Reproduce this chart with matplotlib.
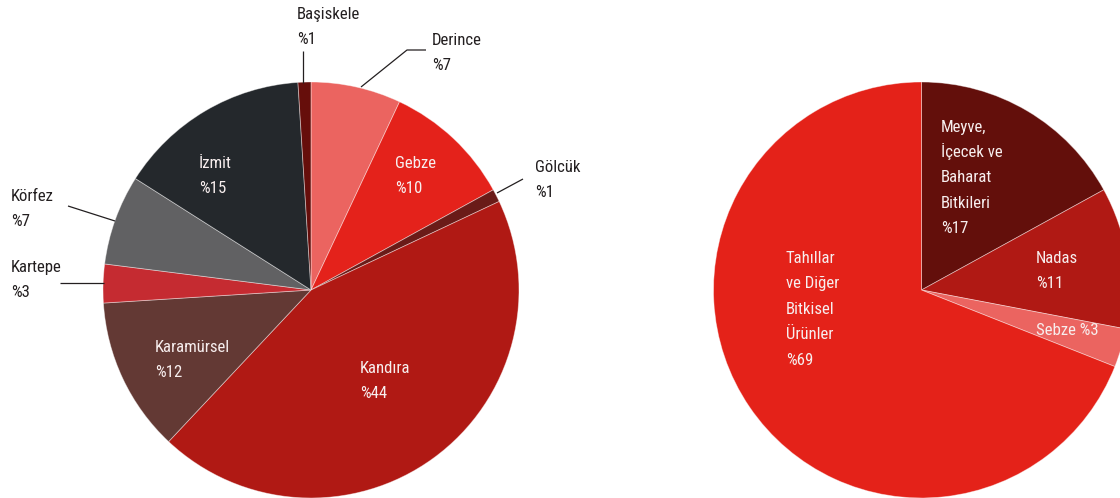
import matplotlib
matplotlib.use("Agg")
import matplotlib.pyplot as plt

plt.rcParams['font.family'] = ['Roboto Condensed', 'IBM Plex Sans Condensed',
                               'PT Sans Narrow', 'Roboto', 'DejaVu Sans']

# left pie: districts, clockwise from 12 o'clock
districts = ["Derince", "Gebze", "Gölcük", "Kandıra", "Karamürsel",
             "Kartepe", "Körfez", "İzmit", "Başiskele"]
district_share = [7, 10, 1, 44, 12, 3, 7, 15, 1]
district_colors = ["#EB6460", "#E4221B", "#6A1B18", "#B01914", "#633934",
                   "#C52B31", "#616163", "#24282C", "#660E0B"]

# right pie: crop groups
crops = ["Meyve,\nİçecek ve\nBaharat\nBitkileri", "Nadas", "Sebze",
         "Tahıllar\nve Diğer\nBitkisel\nÜrünler"]
crop_share = [17, 11, 3, 69]
crop_colors = ["#630F0B", "#B01914", "#EB6460", "#E42219"]

W, H = 1120, 498
fig = plt.figure(figsize=(W / 100, H / 100), dpi=100)
ax = fig.add_axes([0, 0, 1, 1])

wp = dict(edgecolor=(1, 1, 1, 0.45), linewidth=0.6)
ax.pie(district_share, colors=district_colors, startangle=90, counterclock=False,
       center=(311, H - 290), radius=208, wedgeprops=wp)
ax.pie(crop_share, colors=crop_colors, startangle=90, counterclock=False,
       center=(921.5, H - 290), radius=208, wedgeprops=wp)

ax.set_xlim(0, W)
ax.set_ylim(0, H)
ax.set_aspect('equal')
ax.axis('off')

dark = "#231F20"
light = "#F7EEEE"
fs = 12.1


# place lines one by one, y = baseline of first line in pixels from the top
def label(x, y, lines, col, step=25):
    for i, s in enumerate(lines):
        ax.text(x, H - (y + i * step), s, color=col, fontsize=fs,
                ha='left', va='baseline')


def pct(v):
    return "%" + str(v)


d = dict(zip(districts, district_share))

label(297, 19, ["Başiskele", pct(d["Başiskele"])], dark)
label(432, 45, ["Derince", pct(d["Derince"])], dark)
label(395, 168, ["Gebze", pct(d["Gebze"])], light)
label(535, 172, ["Gölcük", pct(d["Gölcük"])], dark)
label(199, 168, ["İzmit", pct(d["İzmit"])], light)
label(11, 201, ["Körfez", pct(d["Körfez"])], dark)
label(11, 272, ["Kartepe", pct(d["Kartepe"])], dark)
label(155, 352, ["Karamürsel", pct(d["Karamürsel"])], light)
label(360, 373, ["Kandıra", pct(d["Kandıra"])], light)

label(941, 132, crops[0].split("\n") + [pct(crop_share[0])], light, step=25.2)
label(1036, 263, ["Nadas", pct(crop_share[1])], light)
label(1036, 335, ["Sebze " + pct(crop_share[2])], light)
label(786, 263, crops[3].split("\n") + [pct(crop_share[3])], light, step=25.4)

# leader lines (pixel coords from the top)
leaders = [
    [(303, 51), (303, 83)],
    [(361, 87), (407, 50), (426, 50)],
    [(497, 193), (523, 179)],
    [(68, 206), (115, 221)],
    [(60, 283), (104, 283)],
]
for pts in leaders:
    ax.plot([p[0] for p in pts], [H - p[1] for p in pts], color=dark, lw=0.9,
            solid_capstyle='butt')

fig.savefig("out.png", dpi=100)
